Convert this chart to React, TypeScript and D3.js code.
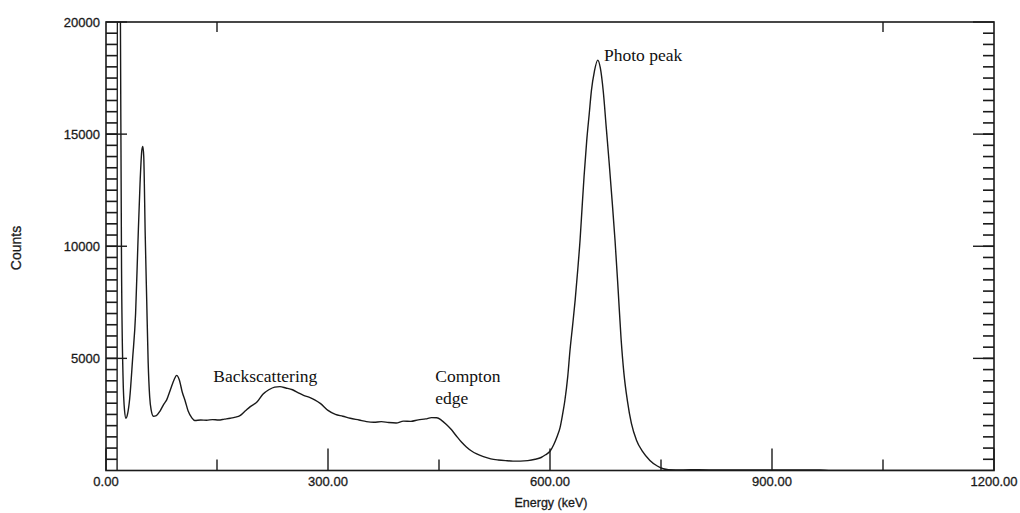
import React from 'react';
import * as d3 from 'd3';

// spectrum (keV, counts)
const energy = [
  15, 15.5, 18, 19.5, 21, 23, 25, 27, 29, 32, 36, 40, 43, 46, 48.5, 49.8, 51, 53, 55, 57, 59, 61, 64,
  68, 73, 78, 82, 87, 92, 95.5, 99, 103, 107, 111, 116, 120, 128, 136, 144, 152, 160, 168, 175, 181,
  188, 195, 204, 212, 220, 228, 235, 243, 252, 260, 267, 275, 282, 290, 300, 310, 320, 330, 342, 352,
  362, 372, 382, 392, 402, 412, 422, 432, 440, 447, 453, 460, 466, 473, 480, 487, 494, 501, 510, 520,
  530, 540, 550, 560, 570, 580, 588, 594, 600, 605, 610, 613.5, 617, 620, 624, 627, 630.5, 634, 637.5,
  640.6, 643.5, 646, 649.6, 653, 656, 660, 664.5, 668, 672, 676, 680, 684, 688, 692, 696, 700, 704.5,
  710, 717, 725, 735, 745, 753, 760, 780, 800, 830, 860, 900, 930, 965, 980, 1200,
];
const counts = [
  0, 30000, 30000, 20000, 9000, 4200, 2700, 2330, 2500, 3200, 5000, 7000, 10000, 12800, 14300, 14450,
  14000, 10500, 7600, 4800, 3300, 2700, 2420, 2450, 2650, 2950, 3150, 3600, 4050, 4240, 4050, 3500,
  3100, 2650, 2350, 2230, 2250, 2240, 2270, 2250, 2290, 2330, 2380, 2450, 2650, 2850, 3050, 3400, 3600,
  3720, 3740, 3680, 3600, 3460, 3350, 3260, 3150, 2980, 2680, 2500, 2420, 2330, 2250, 2180, 2150, 2180,
  2140, 2120, 2200, 2190, 2260, 2300, 2360, 2350, 2250, 2050, 1850, 1560, 1280, 1050, 870, 740, 620,
  520, 470, 440, 420, 420, 440, 500, 580, 700, 860, 1150, 1550, 1900, 2500, 3100, 4200, 5350, 6450, 7600,
  8950, 10270, 11800, 13100, 14700, 15900, 16950, 17800, 18300, 17950, 16900, 15300, 13700, 12000,
  10200, 8100, 5900, 4300, 3130, 2100, 1340, 850, 450, 200, 80, 40, 30, 35, 25, 30, 25, 30, 20, 0, 0,
];

const xMajor = [0, 300, 600, 900, 1200];
const xMajorLabels = ['0.00', '300.00', '600.00', '900.00', '1200.00'];
const xMinor = [150, 450, 750, 1050];
const xTopTicks = [150, 1050];
const yMajor = [5000, 10000, 15000, 20000];
const yMajorLabels = ['5000', '10000', '15000', '20000'];
const yMinor = d3.range(500, 20000, 500);

const W = 1020;
const H = 513;

export default function App() {
  const x = d3.scaleLinear().domain([0, 1200]).range([106, 994]);
  const y = d3.scaleLinear().domain([0, 20000]).range([470.5, 22]);
  const [x0, x1] = x.range();
  const [y0, y1] = y.range();

  const pts = energy.map((e, i) => [e, counts[i]] as [number, number]);
  const line = d3
    .line<[number, number]>()
    .x((d) => x(d[0]))
    .y((d) => y(d[1]))
    .curve(d3.curveMonotoneX);

  const sans = "'Liberation Sans', Arial, sans-serif";
  const serif = "'Liberation Serif', 'Times New Roman', serif";
  const ink = '#1a1a1a';

  return (
    <svg
      width={W}
      height={H}
      style={{ position: 'absolute', left: 0, top: 0, background: '#fff' }}
    >
      <defs>
        <clipPath id="plot">
          <rect x={x0} y={y1} width={x1 - x0} height={y0 - y1} />
        </clipPath>
      </defs>

      {/* spectrum */}
      <path
        d={line(pts) || ''}
        fill="none"
        stroke={ink}
        strokeWidth={1.4}
        clipPath="url(#plot)"
      />

      {/* frame */}
      <rect x={x0} y={y1} width={x1 - x0} height={y0 - y1} fill="none" stroke={ink} strokeWidth={1.6} />

      {/* left ladder of minor ticks + right minor ticks */}
      {yMinor.map((v) => (
        <g key={'ym' + v}>
          <line x1={x0} x2={x0 + 11} y1={y(v)} y2={y(v)} stroke={ink} strokeWidth={1.6} />
          <line x1={x1 - 11} x2={x1} y1={y(v)} y2={y(v)} stroke={ink} strokeWidth={1.6} />
        </g>
      ))}
      <g fontFamily={sans} fontSize={13} fill={ink} stroke={ink} strokeWidth={0.3}>
        {yMajor.map((v, i) => (
          <g key={'yM' + v}>
            <line x1={x0} x2={x0 + 21} y1={y(v)} y2={y(v)} strokeWidth={1.4} />
            <line x1={x1 - 21} x2={x1} y1={y(v)} y2={y(v)} strokeWidth={1.4} />
            <text x={100} y={y(v)} dy="0.35em" textAnchor="end">
              {yMajorLabels[i]}
            </text>
          </g>
        ))}

        {/* x ticks */}
        {xMajor.map((v, i) => (
          <g key={'xM' + v}>
            <line x1={x(v)} x2={x(v)} y1={y0} y2={y0 - 22} strokeWidth={1.4} />
            <text x={x(v)} y={486} textAnchor="middle">
              {xMajorLabels[i]}
            </text>
          </g>
        ))}
        {xMinor.map((v) => (
          <line key={'xm' + v} x1={x(v)} x2={x(v)} y1={y0} y2={y0 - 11} strokeWidth={1.4} />
        ))}
        {xTopTicks.map((v) => (
          <line key={'xt' + v} x1={x(v)} x2={x(v)} y1={y1} y2={y1 + 10} strokeWidth={1.4} />
        ))}

        {/* axis titles */}
        <text x={551} y={507} textAnchor="middle" fontSize={12.5}>
          Energy (keV)
        </text>
        <text transform="translate(21,248) rotate(-90)" textAnchor="middle" fontSize={14}>
          Counts
        </text>
      </g>

      {/* annotations */}
      <g fontFamily={serif} fontSize={17.5} fill="#111">
        <text x={x(145)} y={y(3950)}>Backscattering</text>
        <text x={x(445)} y={y(3950)}>Compton</text>
        <text x={x(445)} y={y(2960)}>edge</text>
        <text x={x(673)} y={y(18280)}>Photo peak</text>
      </g>
    </svg>
  );
}
